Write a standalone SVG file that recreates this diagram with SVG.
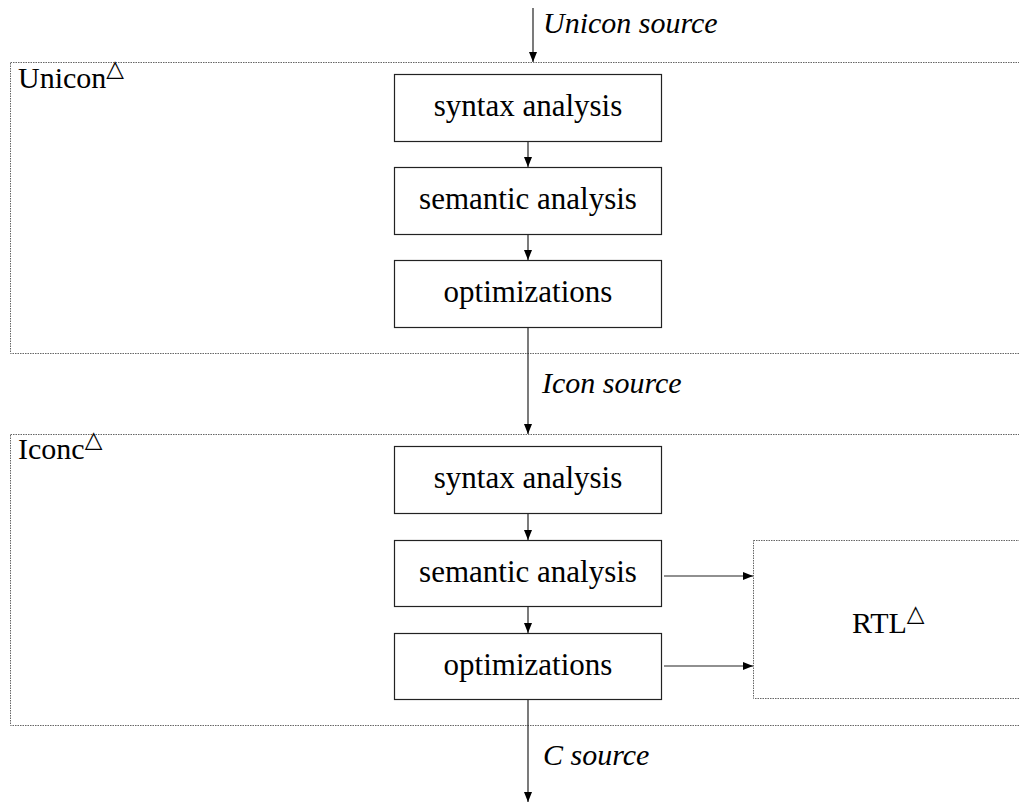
<svg xmlns="http://www.w3.org/2000/svg" width="1019" height="803" viewBox="0 0 1019 803">
<style>
text{font-family:"Liberation Serif","Times New Roman",serif;fill:#000}
.lbl{font-size:30px}
.it{font-size:30px;font-style:italic}
.node rect{fill:#fff;stroke:#222;stroke-width:1.2}
.node text{font-size:31px;text-anchor:middle}
.grp{fill:none;stroke:#666;stroke-width:1;stroke-dasharray:1.5,1}
.con line{stroke:#222;stroke-width:1.2}
.sup{font-size:23px;font-family:"DejaVu Sans",sans-serif}
</style>
<defs>
<marker id="ah" markerWidth="10" markerHeight="8" refX="10" refY="4" orient="auto" markerUnits="userSpaceOnUse">
<path d="M0,0 L10,4 L0,8 Z" fill="#000"/>
</marker>
</defs>
<rect fill="#fff" x="0" y="0" width="1019" height="803"/>
<g id="unicon">
<rect class="grp" x="10.5" y="62.5" width="1020" height="291"/>
<text class="lbl" x="18" y="88">Unicon<tspan class="sup" dy="-12">△</tspan></text>
</g>
<g id="iconc">
<rect class="grp" x="10.5" y="434.5" width="1020" height="291"/>
<text class="lbl" x="18" y="459">Iconc<tspan class="sup" dy="-12">△</tspan></text>
</g>
<g id="rtl">
<rect class="grp" x="753.5" y="540.5" width="300" height="158"/>
<text class="lbl" x="852" y="633">RTL<tspan class="sup" dy="-12">△</tspan></text>
</g>
<g id="u-syntax" class="node"><rect x="394.5" y="74.5" width="267" height="67"/><text x="528" y="116">syntax analysis</text></g>
<g id="u-semantic" class="node"><rect x="394.5" y="167.5" width="267" height="67"/><text x="528" y="209">semantic analysis</text></g>
<g id="u-opt" class="node"><rect x="394.5" y="260.5" width="267" height="67"/><text x="528" y="302">optimizations</text></g>
<g id="i-syntax" class="node"><rect x="394.5" y="446.5" width="267" height="67"/><text x="528" y="488">syntax analysis</text></g>
<g id="i-semantic" class="node"><rect x="394.5" y="540.5" width="267" height="66"/><text x="528" y="582">semantic analysis</text></g>
<g id="i-opt" class="node"><rect x="394.5" y="633.5" width="267" height="66"/><text x="528" y="675">optimizations</text></g>
<g id="connectors" class="con">
<line x1="533" y1="8" x2="533" y2="62" marker-end="url(#ah)"/>
<line x1="528" y1="142" x2="528" y2="167" marker-end="url(#ah)"/>
<line x1="528" y1="235" x2="528" y2="260" marker-end="url(#ah)"/>
<line x1="528" y1="328" x2="528" y2="434" marker-end="url(#ah)"/>
<line x1="528" y1="514" x2="528" y2="540" marker-end="url(#ah)"/>
<line x1="528" y1="607" x2="528" y2="633" marker-end="url(#ah)"/>
<line x1="528" y1="700" x2="528" y2="802" marker-end="url(#ah)"/>
<line x1="664" y1="576" x2="753" y2="576" marker-end="url(#ah)"/>
<line x1="664" y1="666" x2="753" y2="666" marker-end="url(#ah)"/>
</g>
<g id="labels">
<text class="it" x="543" y="33">Unicon source</text>
<text class="it" x="542" y="393">Icon source</text>
<text class="it" x="543" y="765">C source</text>
</g>
</svg>
